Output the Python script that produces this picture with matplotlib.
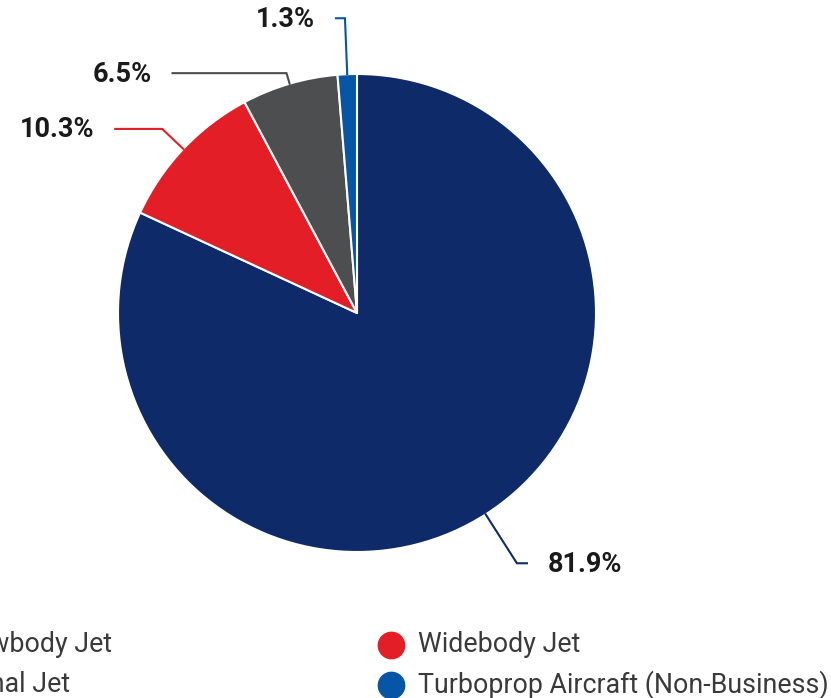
import numpy as np
import matplotlib
matplotlib.use("Agg")
import matplotlib.pyplot as plt

plt.rcParams['font.family'] = ['Roboto', 'DejaVu Sans']

# Fleet share by aircraft type (%)
categories = ["Narrowbody Jet", "Widebody Jet", "Regional Jet", "Turboprop Aircraft (Non-Business)"]
shares = [81.9, 10.3, 6.5, 1.3]
colors = ["#0e2a69", "#e31e26", "#4d4e50", "#0656a5"]

# legend layout: row-major, two columns
legend_order = [0, 1, 2, 3]

W, H = 831, 698
fig = plt.figure(figsize=(W / 100, H / 100), dpi=100)
ax = fig.add_axes([0, 0, 1, 1])

cx, cy, r = 357, H - 313, 239
wedges, _ = ax.pie(shares, colors=colors, startangle=90, counterclock=False,
                   center=(cx, cy), radius=r, frame=True,
                   wedgeprops=dict(edgecolor="white", linewidth=1.5, joinstyle="round"))

# leader lines: radial stub, then a horizontal run out to the label
stub = [58, 29, 11, 56]
run = [10, -47, -114, -9]
for w, val, col, d, h in zip(wedges, shares, colors, stub, run):
    mid = np.deg2rad((w.theta1 + w.theta2) / 2)
    x0, y0 = cx + r * np.cos(mid), cy + r * np.sin(mid)
    x1, y1 = cx + (r + d) * np.cos(mid), cy + (r + d) * np.sin(mid)
    x2 = x1 + h
    ax.plot([x0, x1, x2], [y0, y1, y1], color=col, lw=1.5, solid_joinstyle="miter")
    side = 1 if h > 0 else -1
    ax.text(x2 + side * 21, y1 - 1, f"{val}%", ha="left" if side > 0 else "right",
            va="center", fontsize=19.5, fontweight="bold", color="#1a1a1a")

# legend drawn by hand so its left column runs off the edge
col_x = [-105, 391]
row_y = [H - 645, H - 685]
for k, i in enumerate(legend_order):
    mx, my = col_x[k % 2], row_y[k // 2]
    ax.scatter([mx], [my], s=360, color=colors[i], zorder=3, clip_on=False)
    ax.text(mx + 27, my, categories[i], ha="left", va="center",
            fontsize=19.3, color="#3a3a3a")

ax.set_xlim(0, W)
ax.set_ylim(0, H)
ax.set_aspect("equal")
ax.axis("off")

fig.savefig("out.png", dpi=100)
